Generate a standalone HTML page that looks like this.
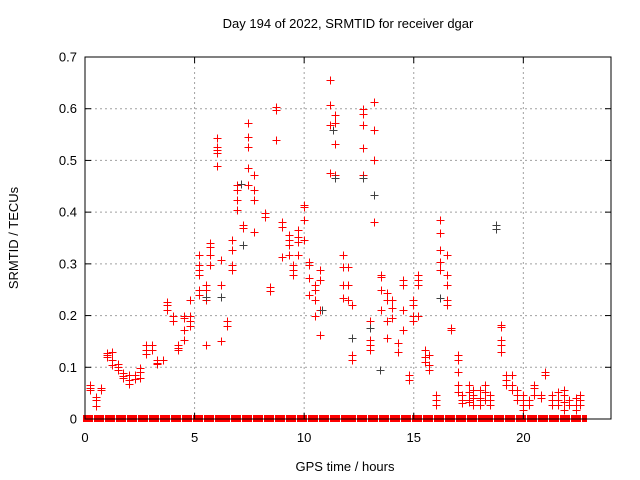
<!DOCTYPE html>
<html><head><meta charset="utf-8"><style>
body{margin:0;background:#fff}
svg{display:block;font-family:"Liberation Sans",sans-serif}
</style></head><body>
<svg id="chart" width="640" height="480" viewBox="0 0 640 480" xmlns="http://www.w3.org/2000/svg">
<rect x="0" y="0" width="640" height="480" fill="#fff"/>
<g id="grid"></g>
<g id="marks"></g>
<g id="axes"></g>
<text x="348" y="28" font-size="13" text-anchor="middle">Day 194 of 2022, SRMTID for receiver dgar</text>
<text x="345" y="471" font-size="13" text-anchor="middle">GPS time / hours</text>
<text x="0" y="0" font-size="13" text-anchor="middle" transform="translate(18,238) rotate(-90)">SRMTID / TECUs</text>
</svg>
<script>
const xTicks=[0,5,10,15,20];
const yTicks=[0,0.1,0.2,0.3,0.4,0.5,0.6,0.7];
const yTickLabels=["0","0.1","0.2","0.3","0.4","0.5","0.6","0.7"];
const redHours=[0.23,0.23,0.23,0.5,0.5,0.5,0.73,0.73,1.0,1.0,1.0,1.23,1.23,1.23,1.5,1.5,1.5,1.74,1.74,1.74,2.0,2.0,2.0,2.3,2.3,2.5,2.5,2.5,2.8,2.8,2.8,3.06,3.06,3.3,3.3,3.3,3.57,3.75,3.75,3.75,4.0,4.0,4.25,4.25,4.25,4.5,4.5,4.5,4.5,4.8,4.8,4.8,4.8,5.2,5.2,5.2,5.2,5.2,5.2,5.5,5.5,5.5,5.5,5.7,5.7,5.7,5.7,6.0,6.0,6.0,6.0,6.0,6.2,6.2,6.2,6.5,6.5,6.7,6.7,6.7,6.7,6.95,6.95,6.95,6.95,7.2,7.2,7.2,7.45,7.45,7.45,7.45,7.45,7.7,7.7,7.7,7.7,8.2,8.2,8.45,8.45,8.7,8.7,8.7,9.0,9.0,9.0,9.3,9.3,9.3,9.3,9.5,9.5,9.5,9.74,9.74,9.74,9.74,10.0,10.0,10.0,10.0,10.24,10.24,10.24,10.24,10.5,10.5,10.5,10.5,10.74,10.74,10.74,10.74,11.2,11.2,11.2,11.2,11.4,11.4,11.4,11.4,11.75,11.75,11.75,11.75,12.0,12.0,12.0,12.2,12.2,12.2,12.7,12.7,12.7,12.7,12.7,13.0,13.0,13.0,13.0,13.2,13.2,13.2,13.2,13.5,13.5,13.5,13.5,13.76,13.76,13.76,13.76,14.0,14.0,14.0,14.3,14.3,14.5,14.5,14.5,14.5,14.77,14.77,14.95,14.95,14.95,14.95,15.2,15.2,15.2,15.2,15.5,15.5,15.5,15.7,15.7,15.7,16.0,16.0,16.0,16.2,16.2,16.2,16.2,16.2,16.5,16.5,16.5,16.5,16.5,16.7,16.7,17.0,17.0,17.0,17.0,17.0,17.2,17.2,17.2,17.5,17.5,17.5,17.5,17.7,17.7,17.7,17.7,18.0,18.0,18.0,18.0,18.25,18.25,18.25,18.5,18.5,18.5,19.0,19.0,19.0,19.0,19.0,19.2,19.2,19.2,19.5,19.5,19.5,19.7,19.7,19.7,20.0,20.0,20.0,20.0,20.26,20.26,20.5,20.5,20.5,20.8,20.8,21.0,21.0,21.3,21.3,21.3,21.6,21.6,21.6,21.86,21.86,21.86,21.86,22.1,22.1,22.4,22.4,22.4,22.6,22.6,22.6];
const redValues=[0.066,0.06,0.056,0.043,0.037,0.025,0.06,0.056,0.124,0.12,0.128,0.13,0.114,0.104,0.106,0.1,0.095,0.089,0.079,0.083,0.085,0.075,0.068,0.085,0.077,0.099,0.091,0.079,0.143,0.133,0.126,0.143,0.133,0.114,0.106,0.108,0.114,0.226,0.22,0.21,0.2,0.19,0.143,0.133,0.137,0.195,0.172,0.153,0.2,0.2,0.19,0.18,0.23,0.317,0.298,0.288,0.279,0.25,0.24,0.26,0.25,0.23,0.143,0.34,0.333,0.317,0.298,0.543,0.526,0.52,0.514,0.49,0.307,0.26,0.15,0.19,0.18,0.346,0.327,0.298,0.288,0.453,0.443,0.424,0.404,0.375,0.37,0.337,0.573,0.545,0.526,0.485,0.453,0.472,0.443,0.424,0.362,0.398,0.39,0.255,0.248,0.603,0.598,0.54,0.381,0.371,0.313,0.356,0.346,0.337,0.317,0.298,0.288,0.279,0.366,0.352,0.342,0.317,0.414,0.41,0.385,0.346,0.304,0.298,0.273,0.24,0.26,0.25,0.23,0.2,0.288,0.269,0.21,0.162,0.656,0.607,0.569,0.476,0.588,0.573,0.532,0.472,0.317,0.294,0.26,0.234,0.294,0.26,0.23,0.22,0.124,0.114,0.6,0.59,0.569,0.524,0.472,0.19,0.153,0.143,0.133,0.613,0.559,0.5,0.381,0.279,0.275,0.25,0.21,0.244,0.23,0.19,0.157,0.23,0.215,0.195,0.147,0.13,0.269,0.26,0.21,0.172,0.085,0.075,0.23,0.22,0.2,0.19,0.279,0.269,0.26,0.2,0.133,0.12,0.11,0.104,0.095,0.124,0.046,0.037,0.027,0.385,0.36,0.327,0.304,0.288,0.317,0.279,0.26,0.23,0.22,0.176,0.172,0.124,0.114,0.091,0.066,0.052,0.046,0.037,0.031,0.066,0.052,0.037,0.033,0.056,0.046,0.04,0.027,0.056,0.04,0.037,0.027,0.066,0.052,0.037,0.046,0.037,0.027,0.182,0.178,0.153,0.143,0.13,0.085,0.075,0.066,0.085,0.066,0.056,0.056,0.046,0.037,0.046,0.037,0.027,0.017,0.037,0.027,0.066,0.06,0.046,0.046,0.04,0.091,0.085,0.046,0.037,0.027,0.052,0.037,0.027,0.056,0.046,0.033,0.017,0.037,0.027,0.04,0.027,0.017,0.046,0.037,0.027];
const blackHours=[5.5,6.2,7.1,7.2,10.8,11.3,11.4,12.2,12.7,13.0,13.2,13.45,16.2,18.75,18.75];
const blackValues=[0.235,0.235,0.455,0.337,0.21,0.558,0.466,0.157,0.466,0.176,0.433,0.095,0.234,0.375,0.368];
const zeroStart=0.0, zeroEnd=22.8, zeroStep=0.25;

const X0=85,X1=611,Y0=419,Y1=57,XMAX=24,YMAX=0.7;
function sx(h){return X0+(X1-X0)*h/XMAX;}
function sy(v){return Y0-(Y0-Y1)*v/YMAX;}
const NS="http://www.w3.org/2000/svg";
function mk(tag,attrs,parent){const e=document.createElementNS(NS,tag);for(const k in attrs)e.setAttribute(k,attrs[k]);parent.appendChild(e);return e;}
const grid=document.getElementById('grid'),marks=document.getElementById('marks'),axes=document.getElementById('axes');
yTicks.forEach((v,i)=>{
  const y=sy(v);
  if(i>0&&i<yTicks.length-1){const g=mk('line',{x1:X0,x2:X1,y1:y,y2:y,stroke:'#a0a0a0','stroke-dasharray':'2,3','stroke-width':1},grid);
  
  }
  mk('line',{x1:X0,x2:X0+6,y1:y,y2:y,stroke:'#000'},axes);
  mk('line',{x1:X1,x2:X1-6,y1:y,y2:y,stroke:'#000'},axes);
  const t=mk('text',{x:X0-8,y:y+4.5,'font-size':13,'text-anchor':'end'},axes);t.textContent=yTickLabels[i];
  
  
});
xTicks.forEach(h=>{
  const x=sx(h);
  if(h>0){const g=mk('line',{x1:x,x2:x,y1:Y0,y2:Y1,stroke:'#a0a0a0','stroke-dasharray':'2,3','stroke-width':1},grid);
  
  }
  mk('line',{x1:x,x2:x,y1:Y0,y2:Y0-6,stroke:'#000'},axes);
  mk('line',{x1:x,x2:x,y1:Y1,y2:Y1+6,stroke:'#000'},axes);
  const t=mk('text',{x:x,y:Y0+23,'font-size':13,'text-anchor':'middle'},axes);t.textContent=String(h);
  
  
});
function plus(h,v,col,name){
  const x=Math.round(sx(h))+0.5,y=Math.round(sy(v))+0.5;
  const p=mk('path',{d:`M${x-4} ${y}H${x+4}M${x} ${y-4}V${y+4}`,stroke:col,'stroke-width':1,fill:'none'},marks);
  
  
}
for(let h=zeroStart;h<=zeroEnd+1e-9;h+=zeroStep){
  const x=Math.round(sx(h)),y=Math.round(sy(0));
  const r=mk('rect',{x:x-2,y:y-4,width:5,height:7,fill:'#ff0000'},marks);
  
  
}
redHours.forEach((h,i)=>plus(h,redValues[i],'#ff0000','red-point'));
blackHours.forEach((h,i)=>plus(h,blackValues[i],'#404040','black-point'));
const fr=mk('rect',{x:X0,y:Y1,width:X1-X0,height:Y0-Y1,fill:'none',stroke:'#000','stroke-width':1},axes);


</script>
</body></html>
